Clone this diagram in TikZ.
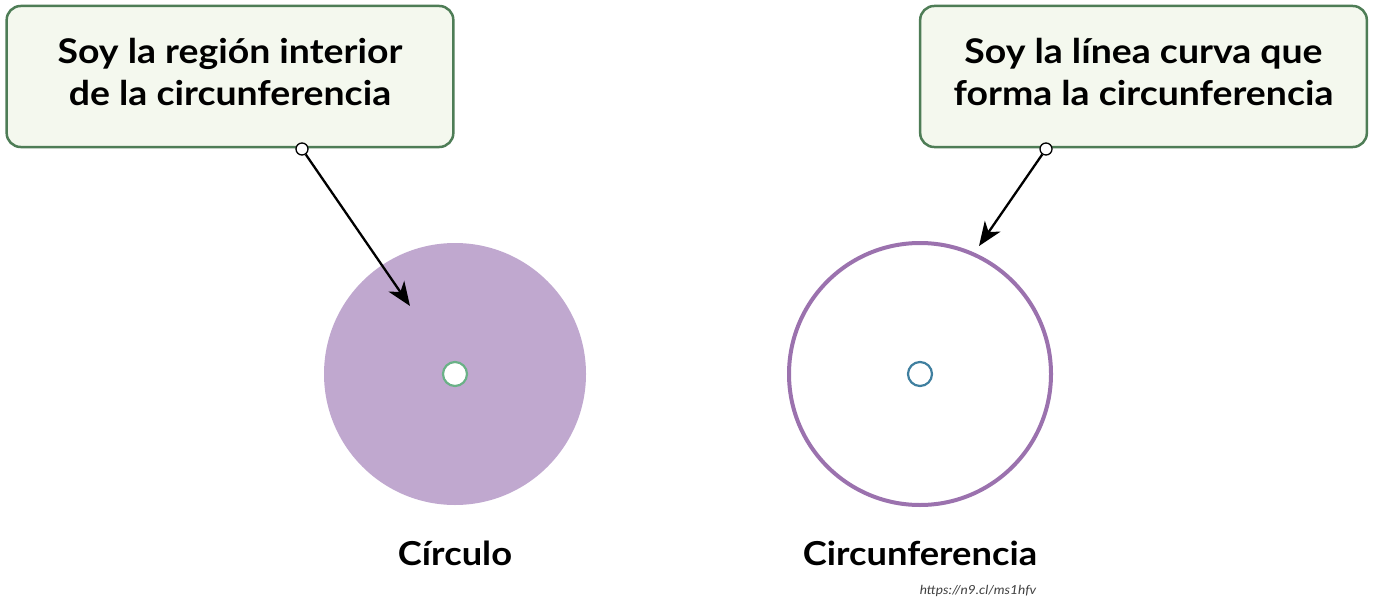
\documentclass[tikz,border=0pt]{standalone}
\usepackage{fontspec}
\setmainfont[FakeStretch=1.1]{Lato}
\usetikzlibrary{arrows.meta}
\definecolor{boxline}{HTML}{4E7D56}
\definecolor{boxfill}{HTML}{F4F8EE}
\definecolor{lilac}{HTML}{C0A8CF}
\definecolor{ringcol}{HTML}{9B72AE}
\definecolor{greendot}{HTML}{6AB187}
\definecolor{bluedot}{HTML}{3F7F9F}
\tikzset{
  callout/.style={draw=boxline, line width=2.5pt, fill=boxfill, rounded corners=14pt,
    minimum width=446pt, minimum height=141pt, align=center,
    font=\fontsize{34}{42}\selectfont\bfseries, text depth=0pt},
  anchordot/.style={circle, draw=black, fill=white, line width=1.3pt, minimum size=12pt, inner sep=0pt},
  pointer/.style={line width=2.3pt, -{Stealth[length=24pt, width=19pt, inset=7pt]}},
  label/.style={font=\fontsize{33}{36}\selectfont\bfseries},
}
\begin{document}
\begin{tikzpicture}[x=1pt, y=-1pt]
\useasboundingbox (0,0) rectangle (1375,599);
% callouts
\node[callout] (b1) at (230,76.5) {\raisebox{36pt}{\parbox{440pt}{\centering Soy la región interior\\ de la circunferencia}}};
\node[callout] (b2) at (1143.5,76.5) {\raisebox{36pt}{\parbox{440pt}{\centering Soy la línea curva que\\ forma la circunferencia}}};
% circles
\fill[lilac] (455,374) circle (131);
\node[circle, draw=greendot, fill=white, line width=2.2pt, minimum size=24pt, inner sep=0pt] (c1) at (455,374) {};
\draw[ringcol, line width=4pt] (920,374) circle (131);
\node[circle, draw=bluedot, line width=2.2pt, minimum size=24pt, inner sep=0pt] (c2) at (920,374) {};
% pointers
\coordinate (t1) at (410,306);
\coordinate (t2) at (979,246);
\node[anchordot] (d1) at (302,149) {};
\node[anchordot] (d2) at (1046,149) {};
\draw[pointer] (d1) -- (t1);
\draw[pointer] (d2) -- (t2);
% labels
\node[label] (l1) at (455,553) {Círculo};
\node[label] (l2) at (920,553) {Circunferencia};
\node[font=\fontsize{12.5}{14}\selectfont\itshape, text=black!75] (url) at (978,591) {https://n9.cl/ms1hfv};
\end{tikzpicture}
\end{document}
